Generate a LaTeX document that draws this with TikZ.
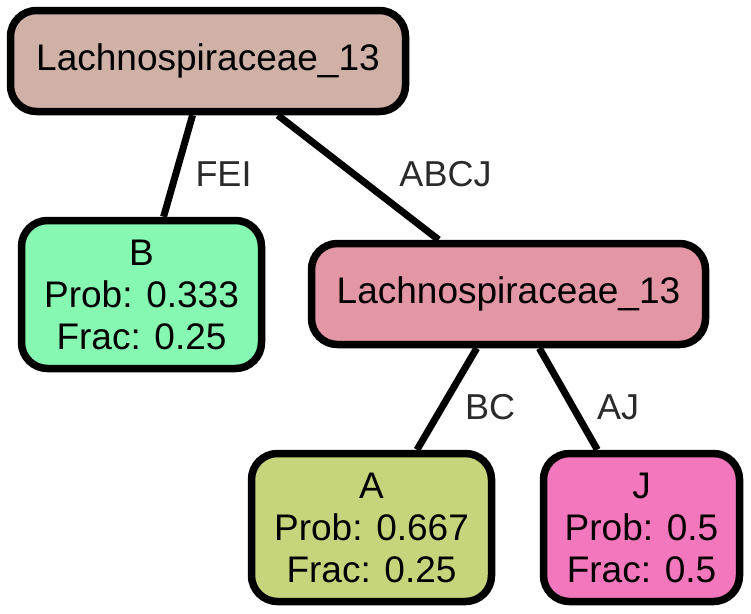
\documentclass[tikz,border=0pt]{standalone}
\usepackage{fontspec}
\setmainfont{Liberation Sans}
\definecolor{rootc}{RGB}{207,177,168}
\definecolor{bfill}{RGB}{134,248,177}
\definecolor{midc}{RGB}{227,150,164}
\definecolor{afill}{RGB}{198,213,123}
\definecolor{jfill}{RGB}{242,119,188}
\definecolor{lblc}{RGB}{42,42,42}
\begin{document}
\begin{tikzpicture}[x=1pt,y=-1pt,
  box/.style={draw=black, line width=7.5pt, rounded corners=26pt, inner sep=0pt, align=center, font=\fontsize{37}{42}\selectfont},
  conn/.style={line width=7pt},
  elabel/.style={text=lblc, font=\fontsize{36}{42}\selectfont, inner sep=0pt}]
\useasboundingbox (0,0) rectangle (751,613);
\node[box, fill=rootc, minimum width=395pt, minimum height=101pt] (root) at (208,61) {Lachnospiraceae\_13};
\node[box, fill=bfill, minimum width=240pt, minimum height=148pt] (b) at (141.5,294.5) {B\\Prob: 0.333\\Frac: 0.25};
\node[box, fill=midc, minimum width=394pt, minimum height=101pt] (mid) at (508.5,294) {Lachnospiraceae\_13};
\node[box, fill=afill, minimum width=240pt, minimum height=148pt] (a) at (371.5,527.5) {A\\Prob: 0.667\\Frac: 0.25};
\node[box, fill=jfill, minimum width=196pt, minimum height=148pt] (j) at (641.5,527.5) {J\\Prob: 0.5\\Frac: 0.5};
\draw[conn] (root) -- (b);
\draw[conn] (root) -- (mid);
\draw[conn] (mid) -- (a);
\draw[conn] (mid) -- (j);
\node[elabel] (lfei) at (223.5,174.5) {FEI};
\node[elabel] (labcj) at (445.5,174.5) {ABCJ};
\node[elabel] (lbc) at (490,407) {BC};
\node[elabel] (laj) at (618,407) {AJ};
\end{tikzpicture}
\end{document}
